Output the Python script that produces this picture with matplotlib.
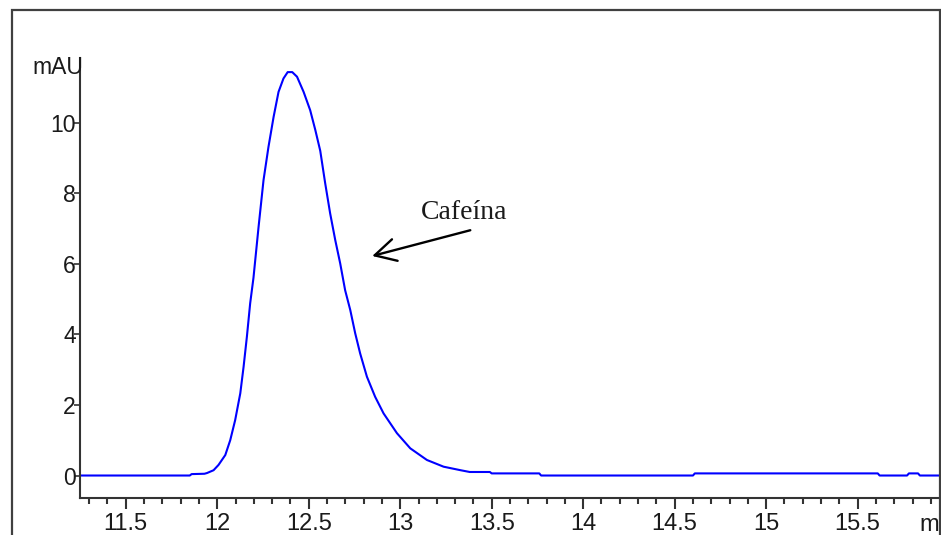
import matplotlib
matplotlib.use("Agg")
import matplotlib.pyplot as plt
from matplotlib.patches import Rectangle
import numpy as np

# chromatogram trace (retention time in min, signal in mAU)
time_min = [11.25, 11.85, 11.86, 11.93, 11.944, 11.98, 12.007, 12.044, 12.071,
            12.098, 12.126, 12.144, 12.162, 12.18, 12.198, 12.226, 12.253,
            12.28, 12.308, 12.335, 12.362, 12.385, 12.41, 12.436, 12.472,
            12.508, 12.536, 12.563, 12.59, 12.617, 12.645, 12.672, 12.699,
            12.727, 12.754, 12.781, 12.818, 12.863, 12.909, 12.982, 13.055,
            13.146, 13.237, 13.33, 13.38, 13.49, 13.50, 13.76, 13.77, 14.60,
            14.61, 15.61, 15.62, 15.77, 15.78, 15.83, 15.84, 15.96]
signal_mau = [0.0, 0.0, 0.04, 0.05, 0.07, 0.15, 0.3, 0.58, 1.0,
              1.57, 2.33, 3.08, 3.93, 4.88, 5.6, 7.05, 8.37,
              9.31, 10.16, 10.87, 11.25, 11.43, 11.43, 11.3, 10.87,
              10.35, 9.79, 9.2, 8.28, 7.43, 6.67, 6.01, 5.25,
              4.69, 4.03, 3.46, 2.8, 2.23, 1.76, 1.2, 0.77,
              0.44, 0.25, 0.15, 0.1, 0.1, 0.06, 0.06, 0.0, 0.0,
              0.06, 0.06, 0.0, 0.0, 0.06, 0.06, 0.0, 0.0]

x_major = np.arange(11.5, 15.51, 0.5)
x_labels = ['11.5', '12', '12.5', '13', '13.5', '14', '14.5', '15', '15.5']
y_major = [0, 2, 4, 6, 8, 10]

peak_name = 'Cafeína'
arrow_tip = (12.847, 6.22)
arrow_tail = (13.383, 6.95)
label_pos = (13.35, 7.44)

plt.rcParams['font.family'] = ['Liberation Sans', 'DejaVu Sans']
ink = '#1a1a1a'

fig = plt.figure(figsize=(9.41, 5.35), dpi=100)
ax = fig.add_axes([80 / 941, 1 - 498 / 535, 860 / 941, 440 / 535])

ax.plot(time_min, signal_mau, color='#0000ff', linewidth=1.5)

ax.set_xlim(11.25, 15.95)
ax.set_ylim(-0.637, 11.83)

for side in ['top', 'right']:
    ax.spines[side].set_visible(False)
for side in ['left', 'bottom']:
    ax.spines[side].set_color('#333333')
    ax.spines[side].set_linewidth(1.5)

ax.set_xticks(x_major)
ax.set_xticklabels(x_labels)
ax.set_xticks(np.arange(11.3, 15.95, 0.1), minor=True)
ax.set_yticks(y_major)
ax.tick_params(axis='x', which='major', direction='out', length=8, width=1.5,
               labelsize=17, pad=3, colors='#333333', labelcolor=ink)
ax.tick_params(axis='x', which='minor', direction='out', length=4, width=1.5,
               colors='#333333')
ax.tick_params(axis='y', which='major', direction='out', length=4, width=1.2,
               labelsize=16.5, pad=-1, colors='#333333', labelcolor=ink)

# peak annotation
ax.annotate('', xy=arrow_tip, xytext=arrow_tail,
            arrowprops=dict(arrowstyle='->,head_length=0.75,head_width=0.4',
                            color='black', lw=1.7, mutation_scale=20,
                            shrinkA=0, shrinkB=0))
ax.text(label_pos[0], label_pos[1], peak_name, fontsize=20,
        family=['Liberation Serif', 'DejaVu Serif'], color=ink,
        ha='center', va='center')

# axis units, as the instrument software prints them (x unit cut to "m" at the edge)
fig.text(83 / 941, 1 - 68 / 535, 'mAU', fontsize=16.5, color=ink,
         ha='right', va='center')
fig.text(939 / 941, 1 - 525 / 535, 'm', fontsize=17, color=ink,
         ha='right', va='center')

# outer frame of the pasted figure
fig.patches.append(Rectangle((12 / 941, -0.2), 928 / 941, 1.2 - 10 / 535,
                             transform=fig.transFigure, fill=False,
                             edgecolor='#404040', linewidth=1.6))

fig.savefig('out.png', dpi=100)
